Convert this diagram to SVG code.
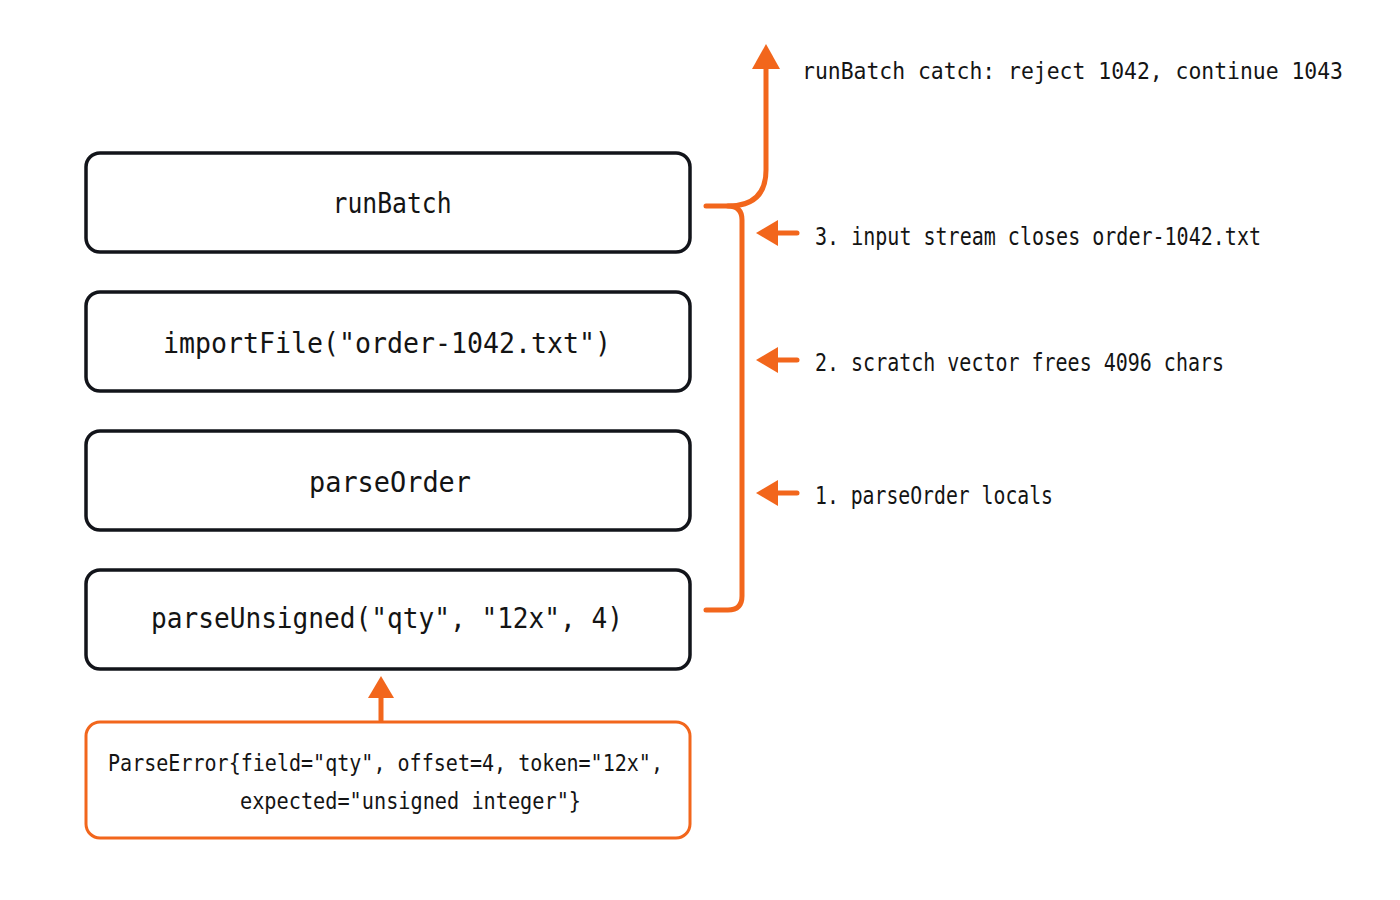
<svg xmlns="http://www.w3.org/2000/svg" width="1400" height="900" viewBox="0 0 1400 900">
  <style>
    .box { fill: #ffffff; stroke: #12141a; stroke-width: 3.5; }
    .err { fill: #ffffff; stroke: #f2661c; stroke-width: 3; }
    .t { font-family: "DejaVu Sans Mono", "Liberation Mono", monospace; fill: #141414; }
    .bt { font-size: 28px; text-anchor: middle; }
    .lt { font-size: 25px; }
    .ct { font-size: 22.5px; }
    .et { font-size: 23px; }
    .o { fill: none; stroke: #f2661c; stroke-width: 5; stroke-linecap: round; stroke-linejoin: round; }
    .oh { fill: #f2661c; }
  </style>
  <rect width="1400" height="900" fill="#ffffff"/>

  <g id="node-runBatch">
    <rect class="box" x="86" y="153" width="604" height="99" rx="14"/>
    <text class="t bt" x="392" y="213" textLength="119" lengthAdjust="spacingAndGlyphs">runBatch</text>
  </g>
  <g id="node-importFile">
    <rect class="box" x="86" y="292" width="604" height="99" rx="14"/>
    <text class="t bt" x="387" y="353" textLength="448" lengthAdjust="spacingAndGlyphs">importFile("order-1042.txt")</text>
  </g>
  <g id="node-parseOrder">
    <rect class="box" x="86" y="431" width="604" height="99" rx="14"/>
    <text class="t bt" x="390" y="492" textLength="162" lengthAdjust="spacingAndGlyphs">parseOrder</text>
  </g>
  <g id="node-parseUnsigned">
    <rect class="box" x="86" y="570" width="604" height="99" rx="14"/>
    <text class="t bt" x="387" y="628" textLength="472" lengthAdjust="spacingAndGlyphs">parseUnsigned("qty", "12x", 4)</text>
  </g>
  <g id="node-parseError">
    <rect class="err" x="86" y="722" width="604" height="116" rx="14"/>
    <text class="t et" x="108" y="771" textLength="555" lengthAdjust="spacingAndGlyphs">ParseError{field="qty", offset=4, token="12x",</text>
    <text class="t et" x="240" y="809" textLength="341" lengthAdjust="spacingAndGlyphs">expected="unsigned integer"}</text>
  </g>

  <g id="connectors">
    <!-- error to parseUnsigned -->
    <line class="o" x1="381" y1="720" x2="381" y2="696"/>
    <polygon class="oh" points="381,676 368,698 394,698"/>
    <!-- brace -->
    <path class="o" d="M706,206 H728 Q742,206 742,220 V596 Q742,610 728,610 H706"/>
    <path class="o" d="M728,206 Q766,206 766,170 V64"/>
    <polygon class="oh" points="766,44 752,69 780,69"/>
    <!-- step arrows -->
    <line class="o" x1="797" y1="233" x2="774" y2="233"/>
    <polygon class="oh" points="756,233 778,220 778,246"/>
    <line class="o" x1="797" y1="360" x2="774" y2="360"/>
    <polygon class="oh" points="756,360 778,347 778,373"/>
    <line class="o" x1="797" y1="493" x2="774" y2="493"/>
    <polygon class="oh" points="756,493 778,480 778,506"/>
  </g>

  <g id="labels">
    <text class="t ct" x="802" y="79" textLength="541" lengthAdjust="spacingAndGlyphs">runBatch catch: reject 1042, continue 1043</text>
    <text class="t lt" x="815" y="245" textLength="446" lengthAdjust="spacingAndGlyphs">3. input stream closes order-1042.txt</text>
    <text class="t lt" x="815" y="371" textLength="409" lengthAdjust="spacingAndGlyphs">2. scratch vector frees 4096 chars</text>
    <text class="t lt" x="815" y="504" textLength="238" lengthAdjust="spacingAndGlyphs">1. parseOrder locals</text>
  </g>
</svg>
